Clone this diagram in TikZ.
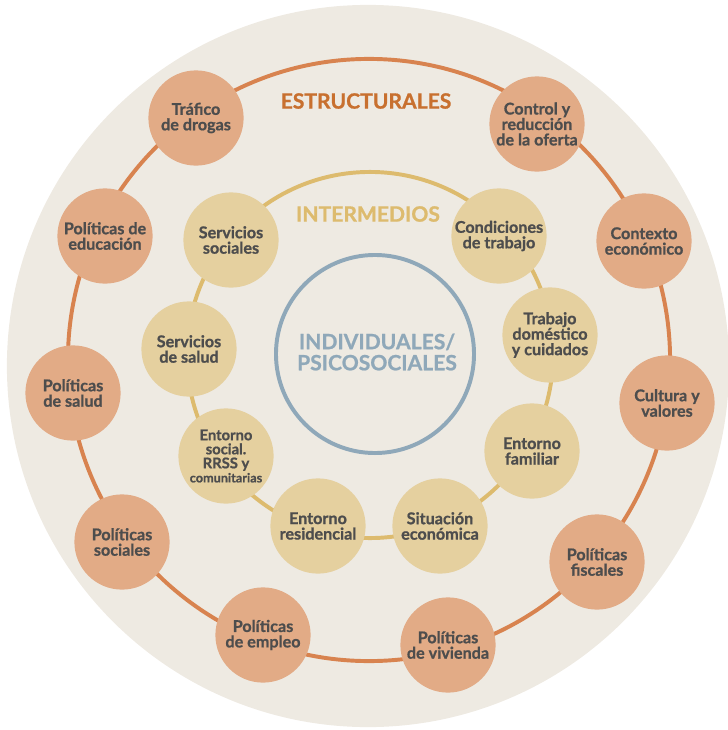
\documentclass[tikz,border=0pt]{standalone}
\usepackage{fontspec}
\setmainfont{Lato}[BoldFeatures={FakeBold=0.9}]
\definecolor{fondo}{HTML}{EEEAE2}
\definecolor{naranja}{HTML}{D8834F}
\definecolor{naranjaclaro}{HTML}{E2AB86}
\definecolor{naranjatexto}{HTML}{C8702F}
\definecolor{amarillo}{HTML}{DDBB6E}
\definecolor{amarilloclaro}{HTML}{E5D09F}
\definecolor{azul}{HTML}{8FA8B9}
\definecolor{gristexto}{HTML}{4D4D4D}

\begin{document}
\begin{tikzpicture}[x=0.025cm,y=-0.025cm,
  factor/.style={circle,inner sep=0pt,minimum size=2.38cm,align=center,
    text=gristexto,font=\bfseries\fontsize{11.5}{11}\selectfont},
  estructural/.style={factor,fill=naranjaclaro},
  intermedio/.style={factor,fill=amarilloclaro},
  titulo/.style={font=\bfseries\fontsize{15}{15}\selectfont,align=center}]

\useasboundingbox (0,0) rectangle (728,730);

\coordinate (fondocentro) at (368,366);
\coordinate (centroE) at (369,360);
\coordinate (centroI) at (370,355);
\coordinate (centroP) at (375,354);

% fondo y anillos
\fill[fondo] (fondocentro) circle (9.025cm);
\draw[naranja,line width=2.8pt] (centroE) circle (7.525cm);
\draw[amarillo,line width=2.8pt] (centroI) circle (4.575cm);
\draw[azul,line width=2.8pt] (centroP) circle (2.475cm);

% titulos
\node[titulo,text=naranjatexto] (estructurales) at (366,101) {ESTRUCTURALES};
\node[titulo,text=amarillo] (intermedios) at (368,214) {INTERMEDIOS};
\node[titulo,text=azul] (individuales) at (377,352) {INDIVIDUALES/\\PSICOSOCIALES};

% factores estructurales
\node[estructural] (trafico) at (196,118) {Tráfico\\de drogas};
\node[estructural] (control) at (537,124) {Control y\\reducción\\de la oferta};
\node[estructural] (contexto) at (644,241) {Contexto\\económico};
\node[estructural] (cultura) at (667,403) {Cultura y\\valores};
\node[estructural] (fiscales) at (597,562) {Políticas\\fiscales};
\node[estructural] (vivienda) at (448,645) {Políticas\\de vivienda};
\node[estructural] (empleo) at (263,635) {Políticas\\de empleo};
\node[estructural] (sociales) at (122,542) {Políticas\\sociales};
\node[estructural] (salud) at (73,393) {Políticas\\de salud};
\node[estructural] (educacion) at (105,236) {Políticas de\\educación};

% factores intermedios
\node[intermedio] (servsociales) at (231,240) {Servicios\\sociales};
\node[intermedio] (condiciones) at (499,236) {Condiciones\\de trabajo};
\node[intermedio] (domestico) at (550,335) {Trabajo\\doméstico\\y cuidados};
\node[intermedio] (familiar) at (532,451) {Entorno\\familiar};
\node[intermedio] (situacion) at (440,526) {Situación\\económica};
\node[intermedio] (residencial) at (318,526) {Entorno\\residencial};
\node[intermedio,font=\bfseries\fontsize{10.5}{10}\selectfont] (entsocial) at (226,456)
  {Entorno\\social.\\RRSS y\\{\fontsize{9}{10}\selectfont comunitarias}};
\node[intermedio] (servsalud) at (189,349) {Servicios\\de salud};
\end{tikzpicture}
\end{document}
